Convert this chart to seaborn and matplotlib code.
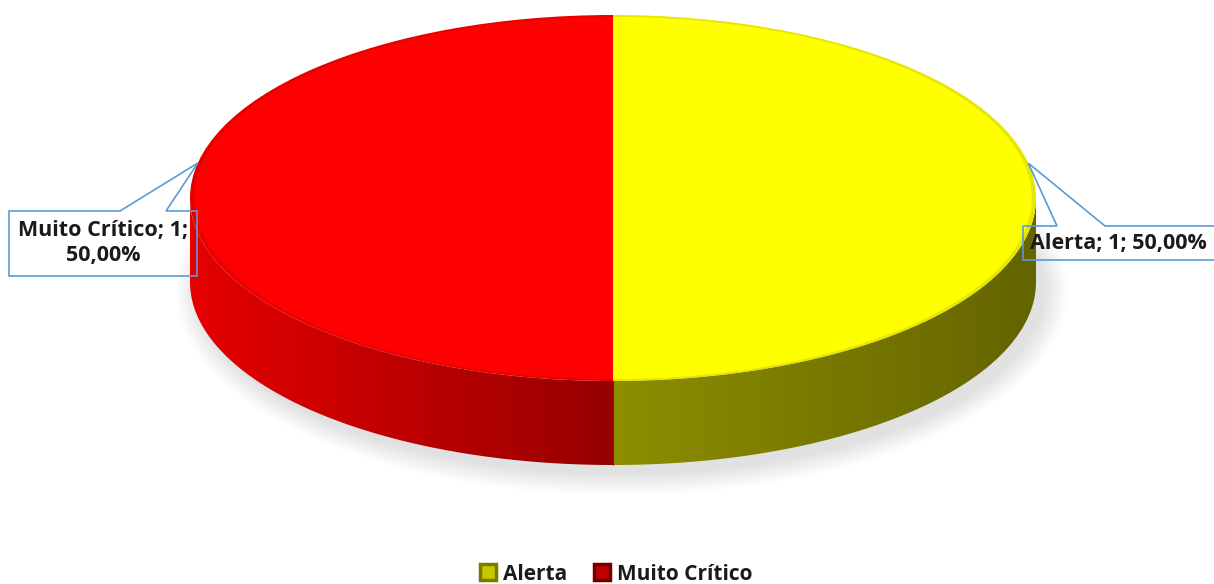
import numpy as np
import matplotlib
matplotlib.use("Agg")
import matplotlib.pyplot as plt
import seaborn as sns
from matplotlib.patches import Polygon, Ellipse
from matplotlib.lines import Line2D

# ---- data ----
categories = ["Alerta", "Muito Crítico"]
counts = [1, 1]
top_colors = ["#ffff00", "#ff0000"]
side_light = ["#8e8e00", "#e60000"]
side_dark = ["#646400", "#960000"]
legend_face = ["#c8c800", "#c00000"]
legend_edge = ["#7a7a00", "#700000"]

sns.set_theme(style="white")
plt.rcParams["font.family"] = ["Open Sans", "DejaVu Sans"]

W, H = 1214, 584
CX, CY = 613, 198          # ellipse centre (px)
RX, RY = 423, 183          # ellipse semi-axes (px)
DEPTH = 84 / RY            # thickness of the disc in data units


def px(x, y):
    """Pixel position (origin top-left) -> data coordinates."""
    return ((x - CX) / RX, (CY - y) / RY)


fig = plt.figure(figsize=(W / 100, H / 100), dpi=100)
ax = fig.add_axes([0, 0, 1, 1])

# soft shadow under the disc
for k in range(10):
    e = Ellipse((0.02, -DEPTH - 0.05), 2.0 + 0.012 * k, 2.0 + 0.025 * k,
                facecolor="#000000", alpha=0.01, edgecolor="none", zorder=0)
    ax.add_patch(e)

# top face: a thin darker bevel ring under the flat colour
wedges, _ = ax.pie(counts, colors=top_colors, startangle=90, counterclock=False,
                   radius=1.0, center=(0, 0),
                   wedgeprops=dict(linewidth=0, zorder=3))
ax.pie(counts, colors=top_colors, startangle=90, counterclock=False,
       radius=0.99, center=(0, 0), wedgeprops=dict(linewidth=0, zorder=4))
for w, c in zip(wedges, top_colors):
    rgb = np.array(matplotlib.colors.to_rgb(c)) * 0.9
    w.set_facecolor(rgb)

# side walls of the front half
for w, lo, hi in zip(wedges, side_light, side_dark):
    t1, t2 = w.theta1 % 360, w.theta2 % 360
    if t2 <= t1:
        t2 += 360
    a = max(t1, 180.0)
    b = min(t2, 360.0)
    if b <= a:
        a, b = max(t1 + 360, 180.0), min(t2 + 360, 360.0)
    if b <= a:
        continue
    th = np.radians(np.linspace(a, b, 200))
    xs, ys = np.cos(th), np.sin(th)
    verts = np.vstack([np.column_stack([xs, ys]),
                       np.column_stack([xs[::-1], ys[::-1] - DEPTH])])
    poly = Polygon(verts, closed=True, facecolor="none", edgecolor="none")
    ax.add_patch(poly)
    x0, x1 = xs.min(), xs.max()
    c_lo = np.array(matplotlib.colors.to_rgb(lo))
    c_hi = np.array(matplotlib.colors.to_rgb(hi))
    tt = np.linspace(0, 1, 256)
    grad = c_lo[None, :] * (1 - tt[:, None]) + c_hi[None, :] * tt[:, None]
    img = np.tile(grad[None, :, :], (20, 1, 1))
    im = ax.imshow(img, extent=(x0, x1, -1 - DEPTH, 0.2), aspect="auto",
                   interpolation="bilinear", zorder=2)
    im.set_clip_path(poly)

# dividing line at the front
ax.plot([0, 0], [-1, -1 - DEPTH], color="#880000", lw=0.6, zorder=2.5)

# data labels with callouts
total = sum(counts)
line_col = "#5b9bd5"
label_font = dict(fontsize=15.5, fontweight="bold", color="#1a1a1a")


def pct(v):
    return f"{v / total * 100:.2f}%".replace(".", ",")


# Alerta (right)
mid = np.radians((wedges[0].theta1 + wedges[0].theta2) / 2 + 11)
anchor = (np.cos(mid), np.sin(mid))
call_r = [px(1023, 226), px(1057, 226), anchor, px(1105, 226), px(1220, 226),
          px(1220, 260), px(1023, 260)]
ax.add_patch(Polygon(call_r, closed=True, fill=False, edgecolor=line_col,
                     lw=1.2, zorder=6, clip_on=False))
ax.text(*px(1030, 243), f"{categories[0]}; {counts[0]}; {pct(counts[0])}",
        ha="left", va="center", zorder=7, **label_font)

# Muito Crítico (left)
mid = np.radians((wedges[1].theta1 + wedges[1].theta2) / 2 - 11)
anchor = (np.cos(mid), np.sin(mid))
call_l = [px(9, 211), px(120, 211), anchor, px(166, 211), px(197, 211),
          px(197, 276), px(9, 276)]
ax.add_patch(Polygon(call_l, closed=True, fill=False, edgecolor=line_col,
                     lw=1.2, zorder=6))
ax.text(*px(103, 243), f"{categories[1]}; {counts[1]};\n{pct(counts[1])}",
        ha="center", va="center", linespacing=1.25, zorder=7, **label_font)

# legend
handles = [Line2D([], [], marker="s", linestyle="none", markersize=11,
                  markerfacecolor=c, markeredgecolor=e, markeredgewidth=2.5)
           for c, e in zip(legend_face, legend_edge)]
leg = fig.legend(handles, categories, loc="center", bbox_to_anchor=(617 / W, 1 - 574 / H),
                 ncol=2, frameon=False, handlelength=0.6, handletextpad=0.4,
                 columnspacing=1.4, prop=dict(size=15, weight="bold"))
for t in leg.get_texts():
    t.set_color("#1a1a1a")

ax.set_aspect("auto")
ax.set_xlim(-CX / RX, (W - CX) / RX)
ax.set_ylim(-(H - CY) / RY, CY / RY)
ax.axis("off")

fig.savefig("out.png", dpi=100, facecolor="white")
